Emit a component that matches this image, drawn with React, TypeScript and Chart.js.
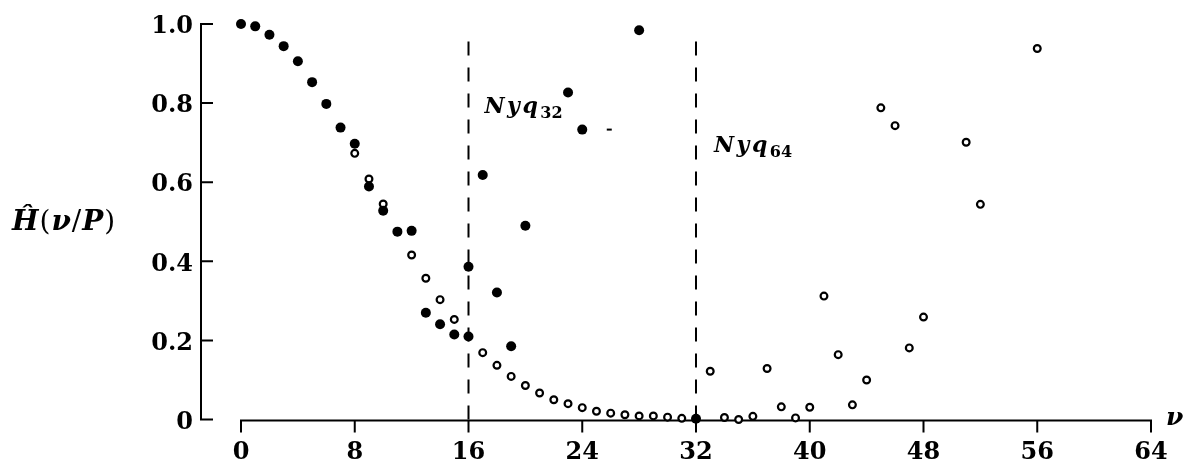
import React, { useEffect, useRef } from 'react';
import { Chart, registerables } from 'chart.js';

Chart.register(...registerables);

// ---- data ----
const xTickValues = [0, 8, 16, 24, 32, 40, 48, 56, 64];
const yTickValues = [0, 0.2, 0.4, 0.6, 0.8, 1.0];

// filled dots (P = 32)
const filledNu = [0, 1, 2, 3, 4, 5, 6, 7, 8, 9, 10, 11, 12, 13, 14, 15, 16, 16, 17, 18, 19, 20, 23, 24, 28, 32];
const filledH = [1.0, 0.994, 0.973, 0.944, 0.906, 0.853, 0.798, 0.738, 0.697, 0.589, 0.528, 0.475, 0.477, 0.27, 0.241, 0.215, 0.386, 0.21, 0.618, 0.321, 0.185, 0.49, 0.827, 0.733, 0.984, 0.002];

// open circles (P = 64)
const openNu = [8, 9, 10, 12, 13, 14, 15, 17, 18, 19, 20, 21, 22, 23, 24, 25, 26, 27, 28, 29, 30, 31, 33, 34, 35, 36, 37, 38, 39, 40, 41, 42, 43, 44, 45, 46, 47, 48, 51, 52, 56];
const openH = [0.673, 0.608, 0.545, 0.416, 0.357, 0.303, 0.253, 0.169, 0.137, 0.109, 0.086, 0.067, 0.05, 0.04, 0.03, 0.021, 0.016, 0.012, 0.009, 0.009, 0.006, 0.003, 0.122, 0.005, 0.0, 0.008, 0.129, 0.032, 0.004, 0.031, 0.312, 0.164, 0.037, 0.1, 0.788, 0.743, 0.181, 0.259, 0.701, 0.544, 0.938];

// Nyquist markers
const nyquistNu = [16, 32];
const nyquistLabels = ['32', '64'];
const nyquistTop = 0.96;

// stray print mark
const strayNu = [25.9];
const strayH = [0.733];

const SERIF = '"DejaVu Serif", "Liberation Serif", serif';

function drawRich(ctx: CanvasRenderingContext2D, x: number, y: number, parts: { t: string; f: string; dy?: number; ls?: number }[]) {
  let cx = x;
  for (const p of parts) {
    ctx.font = p.f;
    (ctx as any).letterSpacing = (p.ls || 0) + 'px';
    ctx.fillText(p.t, cx, y + (p.dy || 0));
    cx += ctx.measureText(p.t).width;
  }
  (ctx as any).letterSpacing = '0px';
}

const decorPlugin = {
  id: 'decor',
  beforeDatasetsDraw(chart: any) {
    const { ctx, chartArea, scales } = chart;
    const xs = scales.x;
    const ys = scales.y;
    ctx.save();
    ctx.strokeStyle = '#000';
    ctx.lineWidth = 2;
    ctx.lineCap = 'butt';
    // y axis (detached to the left)
    const ax = chartArea.left - 40;
    ctx.beginPath();
    ctx.moveTo(ax, ys.getPixelForValue(1) - 1);
    ctx.lineTo(ax, ys.getPixelForValue(0) + 1);
    for (const v of yTickValues) {
      const py = ys.getPixelForValue(v);
      ctx.moveTo(ax - 1, py);
      ctx.lineTo(ax + 12, py);
    }
    ctx.stroke();
    // x axis
    const ay = chartArea.bottom + 1;
    ctx.beginPath();
    ctx.moveTo(xs.getPixelForValue(0) - 1, ay);
    ctx.lineTo(xs.getPixelForValue(64) + 1, ay);
    for (const v of xTickValues) {
      const px = xs.getPixelForValue(v);
      ctx.moveTo(px, ay - 1);
      ctx.lineTo(px, ay + 12);
    }
    ctx.stroke();
    ctx.restore();
  },
  afterDraw(chart: any) {
    const { ctx, chartArea, scales } = chart;
    const xs = scales.x;
    const ys = scales.y;
    ctx.save();
    ctx.fillStyle = '#000';
    ctx.textBaseline = 'alphabetic';
    ctx.textAlign = 'left';
    // Nyquist labels
    const offs = [{ dx: 16, v: 0.775 }, { dx: 18, v: 0.677 }];
    nyquistNu.forEach((nu, i) => {
      const px = xs.getPixelForValue(nu) + offs[i].dx;
      const py = ys.getPixelForValue(offs[i].v);
      drawRich(ctx, px, py, [
        { t: 'Nyq', f: `italic bold 22px ${SERIF}`, ls: 2.5 },
        { t: nyquistLabels[i], f: `bold 16px ${SERIF}`, dy: 5 },
      ]);
    });
    // y axis title
    const ty = ys.getPixelForValue(0.5) + 8;
    drawRich(ctx, 12, ty, [
      { t: 'Ĥ', f: `italic bold 28px ${SERIF}`, ls: 1 },
      { t: '(', f: `28px ${SERIF}`, ls: 1 },
      { t: 'ν', f: `italic bold 28px ${SERIF}`, ls: 1 },
      { t: '/', f: `28px ${SERIF}`, ls: 1 },
      { t: 'P', f: `italic bold 28px ${SERIF}`, ls: 1 },
      { t: ')', f: `28px ${SERIF}` },
    ]);
    // x axis title
    drawRich(ctx, chartArea.right + 15, chartArea.bottom + 5, [
      { t: 'ν', f: `italic bold 25px ${SERIF}` },
    ]);
    ctx.restore();
  },
};

export default function App() {
  const ref = useRef<HTMLCanvasElement | null>(null);
  useEffect(() => {
    if (!ref.current) return;
    const filled = filledNu.map((n, i) => ({ x: n, y: filledH[i] }));
    const open = openNu.map((n, i) => ({ x: n, y: openH[i] }));
    const stray = strayNu.map((n, i) => ({ x: n, y: strayH[i] }));
    const nyqSets = nyquistNu.map((n) => ({
      type: 'line' as const,
      data: [{ x: n, y: 0 }, { x: n, y: nyquistTop }],
      borderColor: '#000',
      borderWidth: 2,
      borderDash: [14, 12],
      pointRadius: 0,
      showLine: true,
      fill: false,
      clip: false as any,
    }));
    const chart = new Chart(ref.current, {
      type: 'scatter',
      data: {
        datasets: [
          {
            data: filled,
            pointRadius: 5,
            pointBackgroundColor: '#000',
            pointBorderColor: '#000',
            pointBorderWidth: 0,
            showLine: false,
            clip: false as any,
          },
          {
            data: open,
            pointRadius: 3.4,
            pointBackgroundColor: '#fff',
            pointBorderColor: '#000',
            pointBorderWidth: 2.2,
            showLine: false,
            clip: false as any,
          },
          {
            data: stray,
            pointStyle: 'line',
            pointRadius: 2.5,
            pointBorderColor: '#000',
            pointBorderWidth: 2,
            showLine: false,
            clip: false as any,
          },
          ...(nyqSets as any[]),
        ],
      },
      options: {
        animation: false,
        responsive: false,
        events: [],
        layout: { padding: { top: 24, right: 40, bottom: 0, left: 0 } },
        plugins: { legend: { display: false }, tooltip: { enabled: false } },
        scales: {
          x: {
            type: 'linear',
            min: 0,
            max: 64,
            grid: { display: false, drawTicks: false },
            border: { display: false },
            afterBuildTicks: (s: any) => {
              s.ticks = xTickValues.map((v) => ({ value: v }));
            },
            afterFit: (s: any) => {
              s.height = 47.5;
              s.paddingLeft = 0;
              s.paddingRight = 0;
              s.paddingTop = 0;
              s.paddingBottom = 0;
            },
            ticks: {
              padding: 19,
              color: '#000',
              maxRotation: 0,
              autoSkip: false,
              font: { family: SERIF, size: 24, weight: 'bold' },
              callback: (v: any) => String(v),
            },
          },
          y: {
            type: 'linear',
            min: 0,
            max: 1,
            grid: { display: false, drawTicks: false },
            border: { display: false },
            afterBuildTicks: (s: any) => {
              s.ticks = yTickValues.map((v) => ({ value: v }));
            },
            afterFit: (s: any) => {
              s.width = 241;
              s.paddingLeft = 0;
              s.paddingRight = 0;
              s.paddingTop = 0;
              s.paddingBottom = 0;
            },
            ticks: {
              padding: 48,
              labelOffset: 3,
              color: '#000',
              autoSkip: false,
              font: { family: SERIF, size: 24, weight: 'bold' },
              callback: (v: any) => (Number(v) === 0 ? '0' : Number(v).toFixed(1)),
            },
          },
        },
      },
      plugins: [decorPlugin],
    });
    return () => chart.destroy();
  }, []);
  return (
    <div style={{ position: 'absolute', left: 0, top: 0, width: 1191, height: 467, background: '#fff' }}>
      <canvas ref={ref} width={1191} height={467} style={{ display: 'block' }} />
    </div>
  );
}
